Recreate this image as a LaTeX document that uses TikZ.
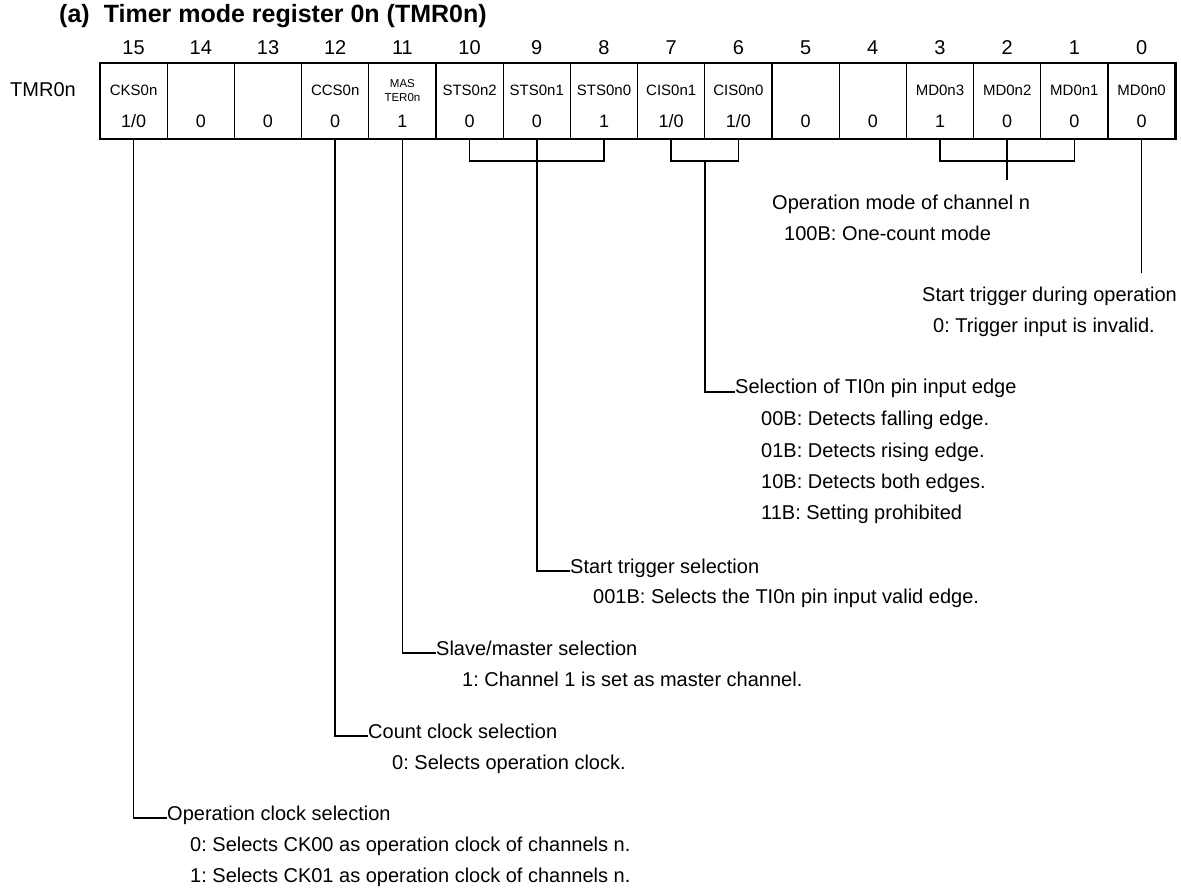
\documentclass[tikz,border=0pt]{standalone}
\usepackage{fontspec}
\setmainfont{Liberation Sans}
\frenchspacing
\begin{document}
\frenchspacing
\begin{tikzpicture}[x=1pt,y=-1pt,
  cell/.style={draw, line width=1.3pt, minimum width=67.2pt, minimum height=76pt, inner sep=0, outer sep=0, anchor=north west},
  num/.style={font=\fontsize{20}{24}\selectfont, anchor=base, inner sep=0},
  lab/.style={font=\fontsize{15}{17}\selectfont, anchor=base, inner sep=0},
  labs/.style={font=\fontsize{11.5}{13}\selectfont, anchor=base, inner sep=0},
  val/.style={font=\fontsize{18}{20}\selectfont, anchor=base, inner sep=0},
  txt/.style={font=\fontsize{20}{24}\selectfont\frenchspacing, anchor=west, inner sep=0, text height=8pt, text depth=4pt},
  conn/.style={line width=1.6pt}
]
\useasboundingbox (0,0) rectangle (1181,890);

% title
\node[anchor=base west, inner sep=0, font=\fontsize{25}{28}\bfseries] (title) at (59,23) {(a)\hspace{14pt}Timer mode register 0n (TMR0n)};

% register name
\node[anchor=base west, inner sep=0, font=\fontsize{20}{24}\selectfont] (reg) at (10,97) {TMR0n};

% cells
\foreach \b in {0,...,15} {
  \pgfmathsetmacro\xx{100+(15-\b)*67.2}
  \node[cell] (c\b) at (\xx,63) {};
  \pgfmathsetmacro\xc{\xx+33.6}
  \node[num] (n\b) at (\xc,55) {\b};
}
\draw[line width=2.6pt] (c15.north west) rectangle (c0.south east);

% field names
\foreach \b/\t in {15/CKS0n,12/CCS0n,10/STS0n2,9/STS0n1,8/STS0n0,7/CIS0n1,6/CIS0n0,3/MD0n3,2/MD0n2,1/MD0n1,0/MD0n0} {
  \pgfmathsetmacro\xc{100+(15-\b)*67.2+33.6}
  \node[lab] (l\b) at (\xc,96) {\t};
}
\node[labs] (l11a) at (402.4,88) {MAS};
\node[labs] (l11b) at (402.4,101.5) {TER0n};

% values
\foreach \b/\v in {15/{1/0},14/0,13/0,12/0,11/1,10/0,9/0,8/1,7/{1/0},6/{1/0},5/0,4/0,3/1,2/0,1/0,0/0} {
  \pgfmathsetmacro\xc{100+(15-\b)*67.2+33.6}
  \node[val] (v\b) at (\xc,128) {\v};
}

% descriptions
\node[txt] (tMD)  at (772,208) {Operation mode of channel n};
\node[txt] (tMDa) at (784,239) {100B: One-count mode};

\node[txt] (tM0)  at (922,300) {Start trigger during operation};
\node[txt] (tM0a) at (933,331) {0: Trigger input is invalid.};

\node[txt] (tCIS)  at (735,392) {Selection of TI0n pin input edge};
\node[txt] (tCISa) at (761,424) {00B: Detects falling edge.};
\node[txt] (tCISb) at (761,455) {01B: Detects rising edge.};
\node[txt] (tCISc) at (761,486) {10B: Detects both edges.};
\node[txt] (tCISd) at (761,517) {11B: Setting prohibited};

\node[txt] (tSTS)  at (570,571) {Start trigger selection};
\node[txt] (tSTSa) at (593,601) {001B: Selects the TI0n pin input valid edge.};

\node[txt] (tMAS)  at (436,653) {Slave/master selection};
\node[txt] (tMASa) at (462,684) {1: Channel 1 is set as master channel.};

\node[txt] (tCCS)  at (368,736) {Count clock selection};
\node[txt] (tCCSa) at (392,767) {0: Selects operation clock.};

\node[txt] (tCKS)  at (167,818) {Operation clock selection};
\node[txt] (tCKSa) at (190,849) {0: Selects CK00 as operation clock of channels n.};
\node[txt] (tCKSb) at (190,880) {1: Selects CK01 as operation clock of channels n.};

% connectors
\draw[conn] (c15.south) |- (tCKS.west);
\draw[conn] (c12.south) |- (tCCS.west);
\draw[conn] (c11.south) |- (tMAS.west);

\coordinate (bS) at ([yshift=-22pt]c9.south);
\draw[conn] (c10.south) |- (bS) -| (c8.south);
\draw[conn] (c9.south) |- (tSTS.west);

\coordinate (bC) at ([yshift=-22pt]c7.south east);
\draw[conn] (c7.south) |- (bC) -| (c6.south);
\draw[conn] (bC) |- (tCIS.west);

\coordinate (bM) at ([yshift=-22pt]c2.south);
\coordinate (eM) at ([yshift=-41pt]c2.south);
\draw[conn] (c3.south) |- (bM) -| (c1.south);
\draw[conn] (c2.south) -- (eM);

\coordinate (e0) at ([yshift=-134pt]c0.south);
\draw[conn] (c0.south) -- (e0);
\end{tikzpicture}
\end{document}
